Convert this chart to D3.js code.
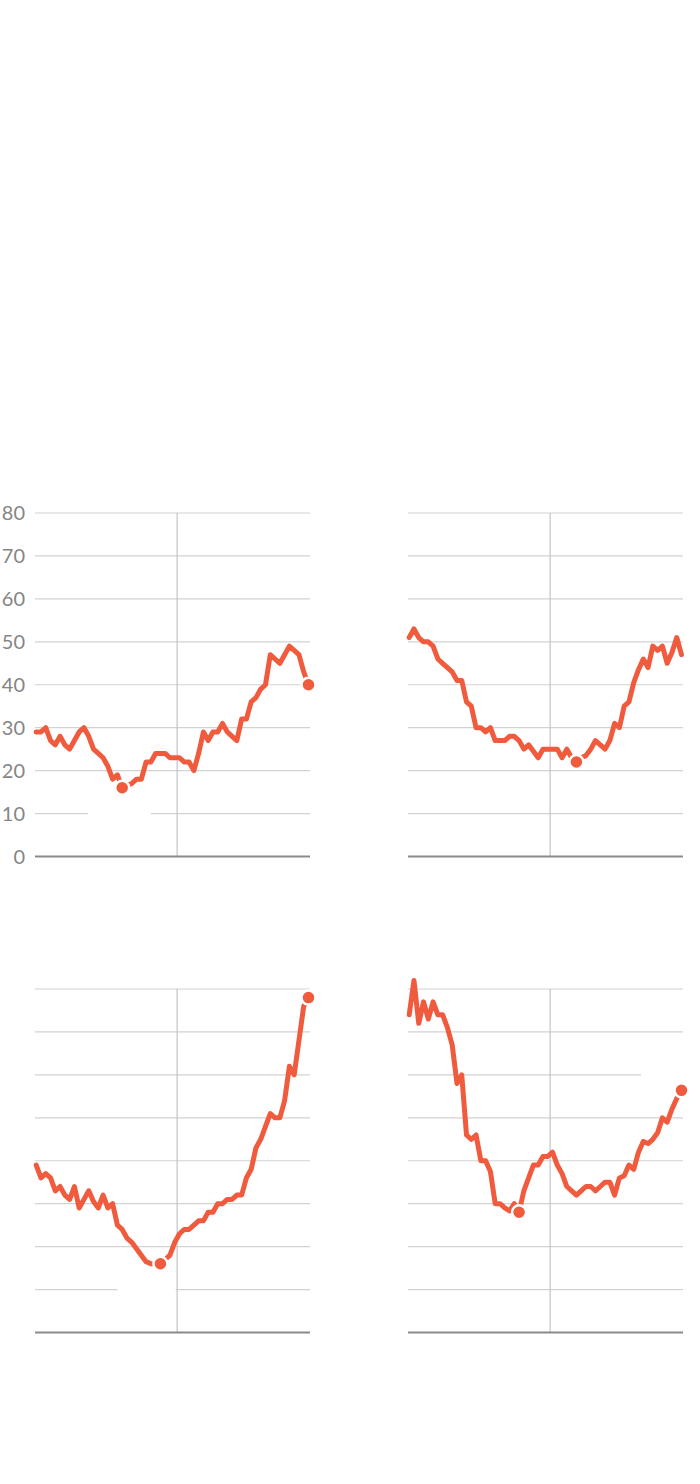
<!DOCTYPE html>
<html>
<head>
<meta charset="utf-8">
<script src="https://cdn.jsdelivr.net/npm/d3@7"></script>
<style>
  html, body { margin: 0; padding: 0; background: #fff; }
  svg { display: block; }
</style>
</head>
<body>
<div id="chart"></div>
<script>
// Four small-multiple series on a shared 0–80 scale, 58 periods each
const yTicks = [0, 10, 20, 30, 40, 50, 60, 70, 80];

const seriesTopLeft = [29,29,30,27,26,28,26,25,27,29, 30,28,25,24,23,21,18,19,16,16.5,
  17,18,18,22,22,24,24,24,23,23, 23,22,22,20,24,29,27,29,29,31,
  29,28,27,32,32,36,37,39,40,47, 46,45,47,49,48,47,43,40];

const seriesTopRight = [51,53,51,50,50,49,46,45,44,43, 41,41,36,35,30,30,29,30,27,27,
  27,28,28,27,25,26,24.5,23,25,25, 25,25,23,25,23,22,23,23.5,25,27,
  26,25,27,31,30,35,36,40.5,43.5,46, 44,49,48,49,45,47.5,51,47];

const seriesBottomLeft = [39,36,37,36,33,34,32,31,34,29, 31,33,30.5,29,32,29,30,25,24,22,
  21,19.5,18,16.5,16,16,16,17,18,21, 23,24,24,25,26,26,28,28,30,30,
  31,31,32,32,36,38,43,45,48,51, 50,50,54,62,60,68,76,78];

const seriesBottomRight = [74,82,72,77,73,77,74,74,71,67, 58,60,46,45,46,40,40,37.5,30,30,
  29,28.3,30,28,33,36,39,39,41,41, 42,39,37,34,33,32,33,34,34,33,
  34,35,35,32,36,36.5,39,38,42,44.5, 44,45,46.5,50,49,52,54.5,56.4];

// Highlighted periods (trough and latest) for each series
const markedTopLeft = [18, 57];
const markedTopRight = [35];
const markedBottomLeft = [26, 57];
const markedBottomRight = [23, 57];

// Period at which the vertical reference rule is drawn
const dividerIndex = 29.5;

// Blank label plates that interrupt a gridline: [panel, value, fromIndex, toIndex]
const plates = [
  [0, 10, 10.8, 24],
  [2, 10, 17, 29.2],
  [3, 60, 48.5, 58.5]
];

const W = 700, H = 1484;
const color = "#f05a3d";
const panelW = 275, panelH = 343.5;
const colX = [35, 408];
const rowY = [513, 989];

const panels = [
  { values: seriesTopLeft, marks: markedTopLeft, col: 0, row: 0, labels: true },
  { values: seriesTopRight, marks: markedTopRight, col: 1, row: 0, labels: false },
  { values: seriesBottomLeft, marks: markedBottomLeft, col: 0, row: 1, labels: false },
  { values: seriesBottomRight, marks: markedBottomRight, col: 1, row: 1, labels: false }
];

const svg = d3.select("#chart").append("svg")
  .attr("width", W).attr("height", H);

panels.forEach((p, pi) => {
  const x0 = colX[p.col], y0 = rowY[p.row];
  const x = d3.scaleLinear().domain([0, 57]).range([x0 + 1.2, x0 + 273.5]);
  const y = d3.scaleLinear().domain([0, 80]).range([y0 + panelH, y0]);
  const g = svg.append("g");

  // horizontal gridlines
  g.append("g").selectAll("line").data(yTicks.filter(t => t > 0)).join("line")
    .attr("x1", x0).attr("x2", x0 + panelW)
    .attr("y1", d => y(d)).attr("y2", d => y(d))
    .attr("stroke", "#d2d2d2").attr("stroke-width", 1.2);

  // plates over gridlines
  plates.filter(q => q[0] === pi).forEach(q => {
    g.append("rect")
      .attr("x", x(q[2])).attr("width", x(q[3]) - x(q[2]))
      .attr("y", y(q[1]) - 4).attr("height", 8)
      .attr("fill", "#fff");
  });

  // vertical reference rule
  g.append("line")
    .attr("x1", x(dividerIndex)).attr("x2", x(dividerIndex))
    .attr("y1", y(80)).attr("y2", y(0))
    .attr("stroke", "#c4c4c4").attr("stroke-width", 1.2);

  // baseline
  g.append("line")
    .attr("x1", x0).attr("x2", x0 + panelW)
    .attr("y1", y(0)).attr("y2", y(0))
    .attr("stroke", "#8a8a8a").attr("stroke-width", 2);

  if (p.labels) {
    g.append("g").selectAll("text").data(yTicks).join("text")
      .attr("x", 25).attr("y", d => y(d))
      .attr("dy", "0.36em")
      .attr("text-anchor", "end")
      .attr("font-family", "Lato, 'Noto Sans', sans-serif")
      .attr("font-size", 20)
      .attr("fill", "#858585")
      .text(d => d);
  }

  const line = d3.line()
    .x((d, i) => x(i))
    .y(d => y(d));

  g.append("path")
    .datum(p.values)
    .attr("d", line)
    .attr("fill", "none")
    .attr("stroke", color)
    .attr("stroke-width", 5)
    .attr("stroke-linejoin", "round")
    .attr("stroke-linecap", "round");

  g.append("g").selectAll("circle").data(p.marks).join("circle")
    .attr("cx", i => x(i))
    .attr("cy", i => y(p.values[i]))
    .attr("r", 7)
    .attr("fill", color)
    .attr("stroke", "#fff")
    .attr("stroke-width", 2.5);
});
</script>
</body>
</html>
